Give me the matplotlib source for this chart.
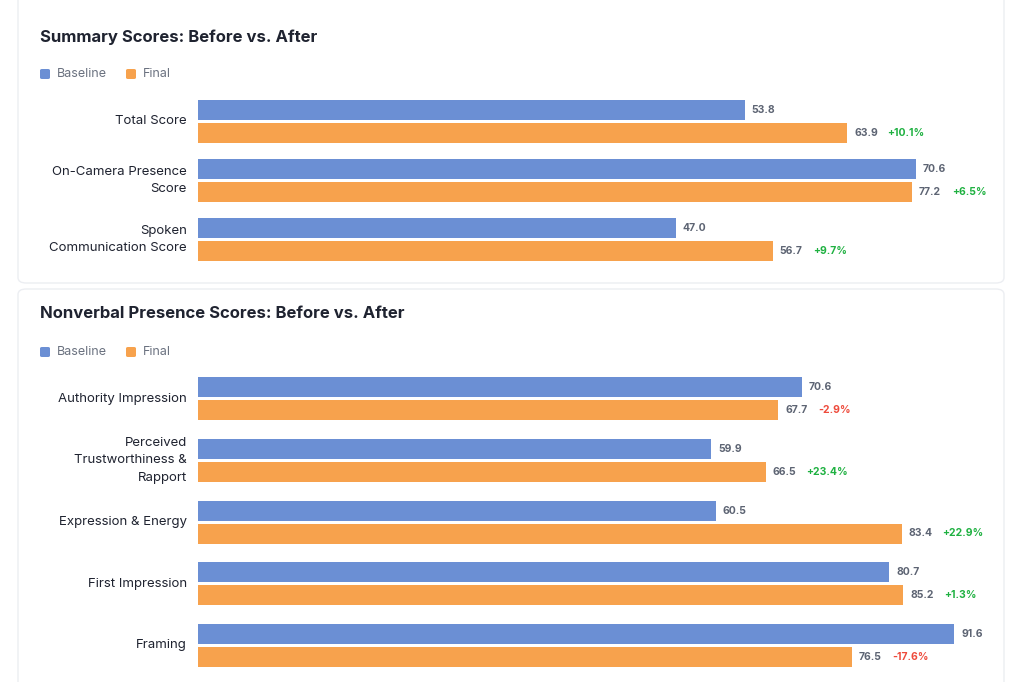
import matplotlib
matplotlib.use("Agg")
import matplotlib.pyplot as plt
from matplotlib.patches import FancyBboxPatch

plt.rcParams['font.family'] = ['Inter', 'DejaVu Sans']

# Panel 1
cats1 = ["Total Score", "On-Camera Presence\nScore", "Spoken\nCommunication Score"]
base1_len = [69.9, 91.8, 61.1]      # drawn bar lengths (as seen)
final1_len = [83.0, 91.3, 73.5]
base1_lbl = ["53.8", "70.6", "47.0"]
final1_lbl = ["63.9", "77.2", "56.7"]
pct1 = ["+10.1%", "+6.5%", "+9.7%"]

# Panel 2
cats2 = ["Authority Impression", "Perceived\nTrustworthiness &\nRapport",
         "Expression & Energy", "First Impression", "Framing"]
base2_len = [77.2, 65.6, 66.2, 88.4, 96.7]
final2_len = [74.2, 72.6, 90.0, 90.2, 83.6]
base2_lbl = ["70.6", "59.9", "60.5", "80.7", "91.6"]
final2_lbl = ["67.7", "66.5", "83.4", "85.2", "76.5"]
pct2 = ["-2.9%", "+23.4%", "+22.9%", "+1.3%", "-17.6%"]

BLUE = "#6b8fd4"; ORANGE = "#f7a24d"; GREEN = "#1fb141"; RED = "#ee4b3c"
LBL = "#5d6473"; DARK = "#1f2330"

W, H = 1024, 682
fig = plt.figure(figsize=(W/100, H/100), dpi=100)
fig.patch.set_facecolor("white")

def card(y0, y1):
    p = FancyBboxPatch((18/W, 1-y1/H), (1004-18)/W, (y1-y0)/H,
                       boxstyle="round,pad=0,rounding_size=0.008",
                       transform=fig.transFigure, fc="white", ec="#eceef2", lw=1,
                       zorder=-10)
    fig.patches.append(p)

card(-10, 283)
card(289, 700)

def panel(title, ty, ly, cats, bl, fl, blab, flab, pct, top, bottom, n):
    fig.text(40/W, 1-ty/H, title, fontsize=12, fontweight="bold", color=DARK, va="center")
    for x, c, t in [(40, BLUE, "Baseline"), (126, ORANGE, "Final")]:
        fig.patches.append(FancyBboxPatch(((x)/W, 1-(ly+5)/H), 10/W, 10/H,
                           boxstyle="round,pad=0,rounding_size=0.002",
                           transform=fig.transFigure, fc=c, ec="none"))
        fig.text((x+17)/W, 1-ly/H, t, fontsize=9, color="#6b7280", va="center")
    ax = fig.add_axes([198/W, 1-bottom/H, 782/W, (bottom-top)/H])
    ax.set_zorder(5)
    ax.set_xlim(0, 100)
    ax.set_ylim(n-0.5, -0.5)
    ax.axis("off")
    sp = (bottom-top)/n
    h = 20/sp; off = 11.5/sp
    for i in range(n):
        ax.barh(i-off, bl[i], height=h, color=BLUE)
        ax.barh(i+off, fl[i], height=h, color=ORANGE)
        ax.annotate(blab[i], (bl[i], i-off), xytext=(5, 0), textcoords="offset points",
                    va="center", fontsize=7.5, fontweight="bold", color=LBL)
        ax.annotate(flab[i], (fl[i], i+off), xytext=(5, 0), textcoords="offset points",
                    va="center", fontsize=7.5, fontweight="bold", color=LBL)
        ax.annotate(pct[i], (fl[i], i+off), xytext=(29, 0), textcoords="offset points",
                    va="center", fontsize=7.5, fontweight="bold",
                    color=GREEN if pct[i].startswith("+") else RED)
        ax.annotate(cats[i], (0, i), xytext=(-8, 0), textcoords="offset points",
                    ha="right", va="center", fontsize=9.5, color=DARK,
                    multialignment="right", linespacing=1.6)

panel("Summary Scores: Before vs. After", 37, 74, cats1, base1_len, final1_len,
      base1_lbl, final1_lbl, pct1, 92, 269, 3)
panel("Nonverbal Presence Scores: Before vs. After", 314, 352, cats2, base2_len, final2_len,
      base2_lbl, final2_lbl, pct2, 368, 676, 5)

fig.savefig("out.png", dpi=100, facecolor="white")
